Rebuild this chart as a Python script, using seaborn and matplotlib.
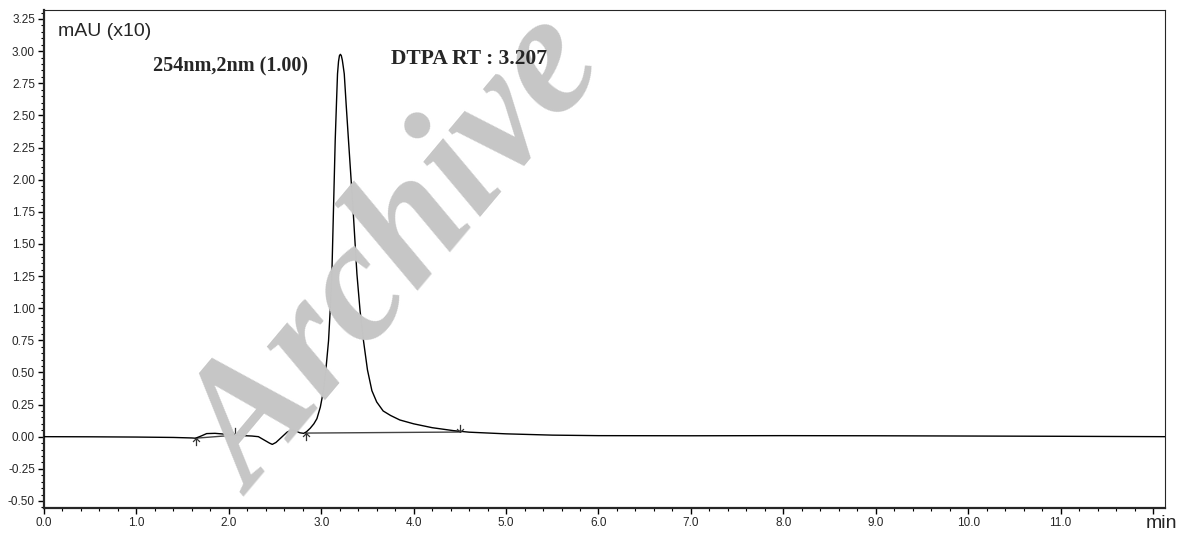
import numpy as np
import pandas as pd
import matplotlib
matplotlib.use("Agg")
import matplotlib.pyplot as plt
from matplotlib.path import Path
from matplotlib.ticker import MultipleLocator, FuncFormatter
import seaborn as sns

# ---- data ----
time_min = [0.0, 0.5, 1.0, 1.4, 1.6, 1.64, 1.70, 1.76, 1.85, 1.95, 2.05, 2.15, 2.25,
            2.32, 2.38, 2.44, 2.47, 2.51, 2.57, 2.63, 2.68, 2.72, 2.77, 2.81, 2.84,
            2.88, 2.92, 2.953, 2.99, 3.024, 3.05, 3.079, 3.098, 3.115, 3.133, 3.151,
            3.165, 3.176, 3.187, 3.197, 3.207, 3.217, 3.228, 3.238, 3.249, 3.27,
            3.295, 3.343, 3.386, 3.42, 3.457, 3.50, 3.548, 3.60, 3.67, 3.75, 3.85,
            4.0, 4.2, 4.43, 4.6, 5.0, 5.5, 6.0, 7.0, 8.0, 9.0, 10.0, 11.0, 12.13]
signal = [0.000, -0.001, -0.003, -0.006, -0.010, -0.012, 0.005, 0.024, 0.026, 0.020,
          0.013, 0.008, 0.005, 0.000, -0.025, -0.050, -0.060, -0.045, -0.005, 0.035,
          0.052, 0.045, 0.030, 0.026, 0.038, 0.065, 0.100, 0.140, 0.230, 0.358,
          0.520, 0.747, 1.000, 1.266, 1.784, 2.304, 2.600, 2.823, 2.920, 2.965,
          2.975, 2.965, 2.930, 2.880, 2.823, 2.580, 2.304, 1.784, 1.266, 0.980,
          0.747, 0.520, 0.358, 0.270, 0.200, 0.165, 0.130, 0.100, 0.070, 0.047,
          0.035, 0.022, 0.012, 0.008, 0.007, 0.008, 0.007, 0.005, 0.003, 0.000]

# integration baselines (start/end times and values)
base_t = [[1.64, 2.07], [2.83, 4.50]]
base_y = [[-0.012, 0.012], [0.028, 0.036]]

y_ticks = [-0.50, -0.25, 0.00, 0.25, 0.50, 0.75, 1.00, 1.25, 1.50, 1.75, 2.00,
           2.25, 2.50, 2.75, 3.00, 3.25]
x_ticks = [0.0, 1.0, 2.0, 3.0, 4.0, 5.0, 6.0, 7.0, 8.0, 9.0, 10.0, 11.0, 12.0]

label_unit = "mAU (x10)"
label_wave = "254nm,2nm (1.00)"
label_peak = "DTPA RT : 3.207"
label_x = "min"
watermark = "Archive"

# ---- figure ----
sns.set_style("ticks")
plt.rcParams['font.family'] = ['Liberation Sans', 'DejaVu Sans']

W, H = 1180, 533
fig = plt.figure(figsize=(W / 100, H / 100), dpi=100)
ax = fig.add_axes([44 / W, 1 - 508 / H, (1165 - 44) / W, (508 - 10) / H])

# watermark behind the trace
fig.text(400 / W, 1 - 258 / H, watermark, rotation=50, ha='center', va='center',
         fontsize=124, color='#c6c6c6', family='Liberation Serif',
         fontweight='bold', fontstyle='italic', zorder=0)
ax.set_facecolor('none')

df = pd.DataFrame({"t": time_min, "y": signal})
sns.lineplot(data=df, x="t", y="y", ax=ax, color='black', linewidth=1.0,
             estimator=None, sort=False, zorder=3)

for bt, by in zip(base_t, base_y):
    sns.lineplot(x=bt, y=by, ax=ax, color='#444444', linewidth=1.0,
                 estimator=None, sort=False, zorder=2)

up_arrow = Path([(0, 0), (0, -1), (0, 0), (-0.45, -0.45), (0, 0), (0.45, -0.45)],
                [Path.MOVETO, Path.LINETO, Path.MOVETO, Path.LINETO, Path.MOVETO, Path.LINETO])
down_arrow = Path([(0, 0), (0, 1), (0, 0), (-0.45, 0.45), (0, 0), (0.45, 0.45)],
                  [Path.MOVETO, Path.LINETO, Path.MOVETO, Path.LINETO, Path.MOVETO, Path.LINETO])
starts_t = [bt[0] for bt in base_t]
starts_y = [by[0] for by in base_y]
ends_t = [bt[1] for bt in base_t]
ends_y = [by[1] for by in base_y]
ax.plot(starts_t, starts_y, linestyle='none', marker=up_arrow, markersize=11,
        mfc='none', mec='#333333', mew=0.9, zorder=4)
ax.plot(ends_t, ends_y, linestyle='none', marker=down_arrow, markersize=11,
        mfc='none', mec='#333333', mew=0.9, zorder=4)

ax.set_xlim(0, 12.13)
ax.set_ylim(-0.555, 3.32)
ax.set_xlabel("")
ax.set_ylabel("")

ax.set_yticks(y_ticks)
ax.set_xticks(x_ticks)
ax.yaxis.set_minor_locator(MultipleLocator(0.05))
ax.xaxis.set_minor_locator(MultipleLocator(0.2))
ax.yaxis.set_major_formatter(FuncFormatter(lambda v, p: f"{v:.2f}"))
ax.xaxis.set_major_formatter(FuncFormatter(lambda v, p: "" if v > 11.5 else f"{v:.1f}"))
ax.tick_params(axis='both', which='major', direction='out', length=4.5, width=1,
               labelsize=8.5, color='black', pad=2)
ax.tick_params(axis='both', which='minor', direction='out', length=2.5, width=0.8,
               color='black')

for side in ['top', 'right']:
    ax.spines[side].set_visible(True)
    ax.spines[side].set_linewidth(0.8)
for side in ['left', 'bottom']:
    ax.spines[side].set_linewidth(1.6)

fig.text(58 / W, 1 - 32 / H, label_unit, fontsize=14, ha='left', va='center')
fig.text(153 / W, 1 - 66 / H, label_wave, fontsize=14.5, ha='left', va='center',
         family='Liberation Serif', fontweight='bold')
fig.text(391 / W, 1 - 59 / H, label_peak, fontsize=15.5, ha='left', va='center',
         family='Liberation Serif', fontweight='bold')
fig.text(1161 / W, 1 - 523 / H, label_x, fontsize=14, ha='center', va='center')

fig.savefig("out.png", dpi=100)
